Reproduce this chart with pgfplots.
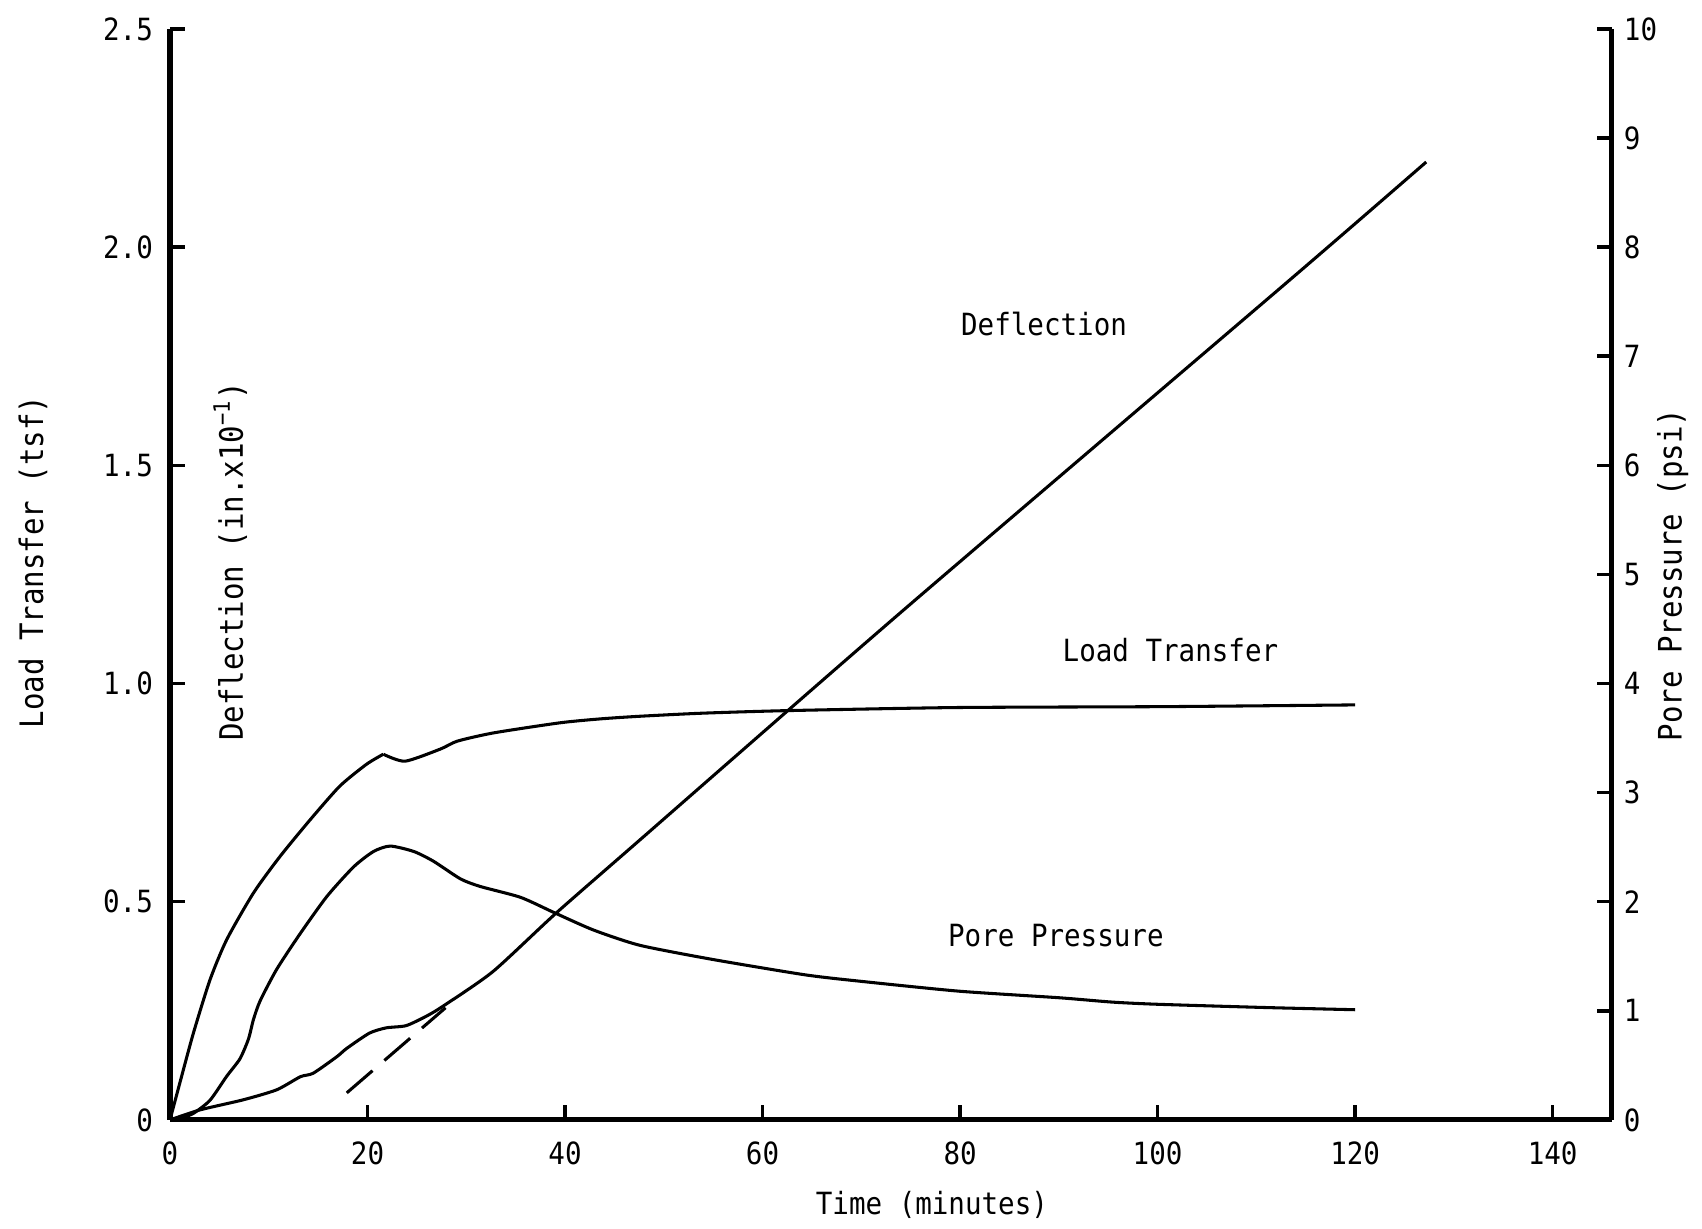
\documentclass[border=0pt]{standalone}
\usepackage{pgfplots}
\pgfplotsset{compat=1.18}
\usepackage{fontspec}
\setmainfont{DejaVu Sans Mono}[FakeStretch=0.9]

% Time histories of load transfer, deflection and pore pressure
\pgfplotstableread{
t     lt
0     0
1.0   0.085
2.37  0.199
4.05  0.321
5.74  0.413
8.45  0.520
11.15 0.604
14.2  0.688
17.2  0.765
19.9  0.815
21.6  0.838
}\loadtransferA

\pgfplotstableread{
t     lt
21.6  0.838
23.8  0.822
27.4  0.850
29.1  0.868
32.8  0.887
39.5  0.910
43.6  0.919
47.6  0.925
53.9  0.932
62.7  0.938
79.8  0.945
100.6 0.947
120   0.951
}\loadtransferB

\pgfplotstableread{
t     d
0     0
3.04  0.023
7.4   0.046
10.8  0.069
13.2  0.099
14.5  0.107
16.9  0.145
17.9  0.164
20.2  0.199
21.9  0.211
23.9  0.216
25.9  0.237
27.6  0.260
32.7  0.340
39.1  0.474
47.6  0.642
74.0  1.163
113.5 1.927
127.2 2.195
}\deflection

\pgfplotstableread{
t     u
0     0
1.2   0.02
2.37  0.06
4.05  0.18
5.74  0.40
7.08  0.56
7.94  0.74
8.45  0.92
9.12  1.09
10.8  1.38
13.2  1.71
15.9  2.05
18.6  2.32
20.6  2.46
22.3  2.51
24.7  2.46
26.7  2.37
29.4  2.21
31.4  2.14
35.5  2.04
38.9  1.90
42.9  1.74
47.6  1.60
55    1.47
64.3  1.33
70    1.27
79.9  1.18
90    1.12
95.4  1.08
100   1.06
111   1.03
120   1.01
}\porepressure

\begin{document}
\begin{tikzpicture}
\pgfplotsset{
  base/.style={
    scale only axis, width=424.1pt, height=320.9pt,
    xmin=0, xmax=146,
    axis line style={line width=1.5pt, black},
    tick align=inside, major tick length=4.5pt,
    tick style={line width=1pt, black},
    tick label style={font=\fontsize{9}{10}\selectfont},
    clip=false,
  },
  curve/.style={black, line width=0.9pt, line join=round, no markers, smooth, tension=0.4},
}
\begin{axis}[
  base,
  ymin=0, ymax=2.5,
  axis x line*=bottom, axis y line*=left,
  xtick={0,20,40,60,80,100,120,140},
  xticklabels={0,20,40,60,80,100,120,140},
  xticklabel style={yshift=-3pt},
  ytick={0,0.5,1,1.5,2,2.5},
  yticklabels={0,0.5,1.0,1.5,2.0,2.5},
  yticklabel style={xshift=-1.5pt},
]
\addplot[curve] table[x=t, y=lt] {\loadtransferA};
\addplot[curve] table[x=t, y=lt] {\loadtransferB};
\addplot[curve] table[x=t, y=d] {\deflection};
\addplot[black, line width=0.9pt, dash pattern=on 10pt off 4.6pt] coordinates {(17.9,0.062) (27.9,0.257)};

\node[font=\fontsize{9}{10}\selectfont] at (axis cs:88.5,1.823) {Deflection};
\node[font=\fontsize{9}{10}\selectfont] at (axis cs:101.3,1.076) {Load Transfer};
\node[font=\fontsize{9}{10}\selectfont] at (axis cs:89.7,0.422) {Pore Pressure};

\node[font=\fontsize{9.5}{10}\selectfont, rotate=90] at (axis cs:6.1,1.28) {Deflection (in.x10\textsuperscript{\char"2212 1})};
\end{axis}

\begin{axis}[
  base,
  ymin=0, ymax=10,
  axis x line=none, axis y line*=right,
  ytick={0,1,2,3,4,5,6,7,8,9,10},
  yticklabels={0,1,2,3,4,5,6,7,8,9,10},
]
\addplot[curve] table[x=t, y=u] {\porepressure};
\end{axis}

\node[font=\fontsize{9.5}{10}\selectfont, rotate=90] at (-40.3pt,164.1pt) {Load Transfer (tsf)};
\node[font=\fontsize{9.5}{10}\selectfont, rotate=90] at (442pt,160.3pt) {Pore Pressure (psi)};
\node[font=\fontsize{9}{10}\selectfont] at (224.1pt,-25pt) {Time (minutes)};

\pgfresetboundingbox
\path[use as bounding box] (-50pt,-31.8pt) rectangle (450.6pt,329.4pt);
\end{tikzpicture}
\end{document}
